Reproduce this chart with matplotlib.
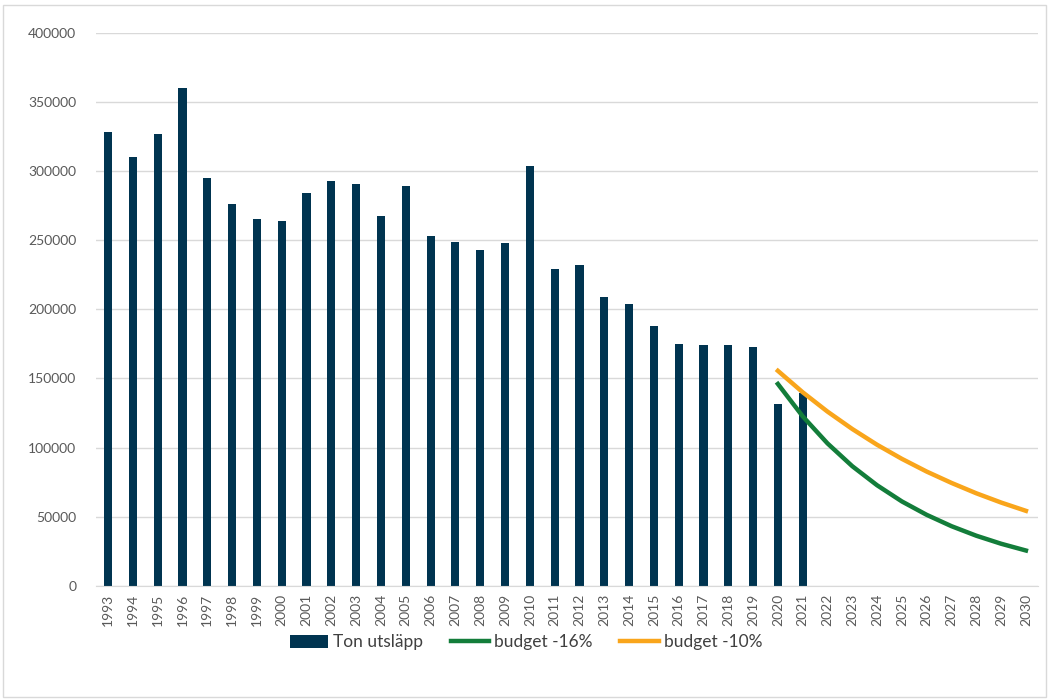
import matplotlib.pyplot as plt
from matplotlib.patches import Rectangle

# Data
ar = list(range(1993, 2031))
ar_stapel = list(range(1993, 2022))
ton_utslapp = [328000, 310000, 326500, 360000, 295000, 276000, 265500, 264000,
               284500, 292500, 291000, 267500, 289000, 253000, 248500, 243000,
               248000, 304000, 229000, 232000, 209000, 203500, 188000, 175000,
               174000, 174000, 172500, 131500, 139500]
ar_budget = list(range(2020, 2031))
budget_16 = [146000, 122600, 103000, 86500, 72700, 61000, 51300, 43100, 36200, 30400, 25500]
budget_10 = [155500, 140000, 126000, 113400, 102000, 91800, 82600, 74400, 66900, 60200, 54200]

plt.rcParams['font.family'] = ['Lato', 'DejaVu Sans']

fig = plt.figure(figsize=(10.52, 6.99), dpi=100)
ax = fig.add_axes([0.091, 0.162, 0.896, 0.791])

pos = {a: i for i, a in enumerate(ar)}
x_stapel = [pos[a] for a in ar_stapel]
x_budget = [pos[a] for a in ar_budget]

staplar = ax.bar(x_stapel, ton_utslapp, width=0.33, color='#003450', label='Ton utsläpp', zorder=2)
l16, = ax.plot(x_budget, budget_16, color='#137d3a', lw=3.2, label='budget -16%', zorder=3)
l10, = ax.plot(x_budget, budget_10, color='#f9a51b', lw=3.2, label='budget -10%', zorder=3)

ax.set_xlim(-0.5, len(ar) - 0.5)
ax.set_ylim(0, 400000)
ax.set_yticks(range(0, 400001, 50000))
ax.set_xticks(range(len(ar)))
ax.set_xticklabels([str(a) for a in ar], rotation=90)
ax.tick_params(axis='both', length=0, labelsize=10, colors='#595959')
ax.tick_params(axis='y', pad=14)
ax.tick_params(axis='x', pad=6)
ax.grid(axis='y', color='#d9d9d9', lw=1, zorder=0)
for s in ['top', 'right', 'left']:
    ax.spines[s].set_visible(False)
ax.spines['bottom'].set_color('#d9d9d9')

fig.legend([staplar, l16, l10], ['Ton utsläpp', 'budget -16%', 'budget -10%'],
           loc='center', bbox_to_anchor=(0.5, 0.081), ncol=3, frameon=False,
           fontsize=12.5, handlelength=2.2, handleheight=0.8, columnspacing=1.6,
           handletextpad=0.3, labelcolor='#404040')

fig.patches.append(Rectangle((0.003, 0.003), 0.991, 0.99, transform=fig.transFigure,
                             fill=False, edgecolor='#d9d9d9', lw=1))

fig.savefig('out.png', dpi=100)
